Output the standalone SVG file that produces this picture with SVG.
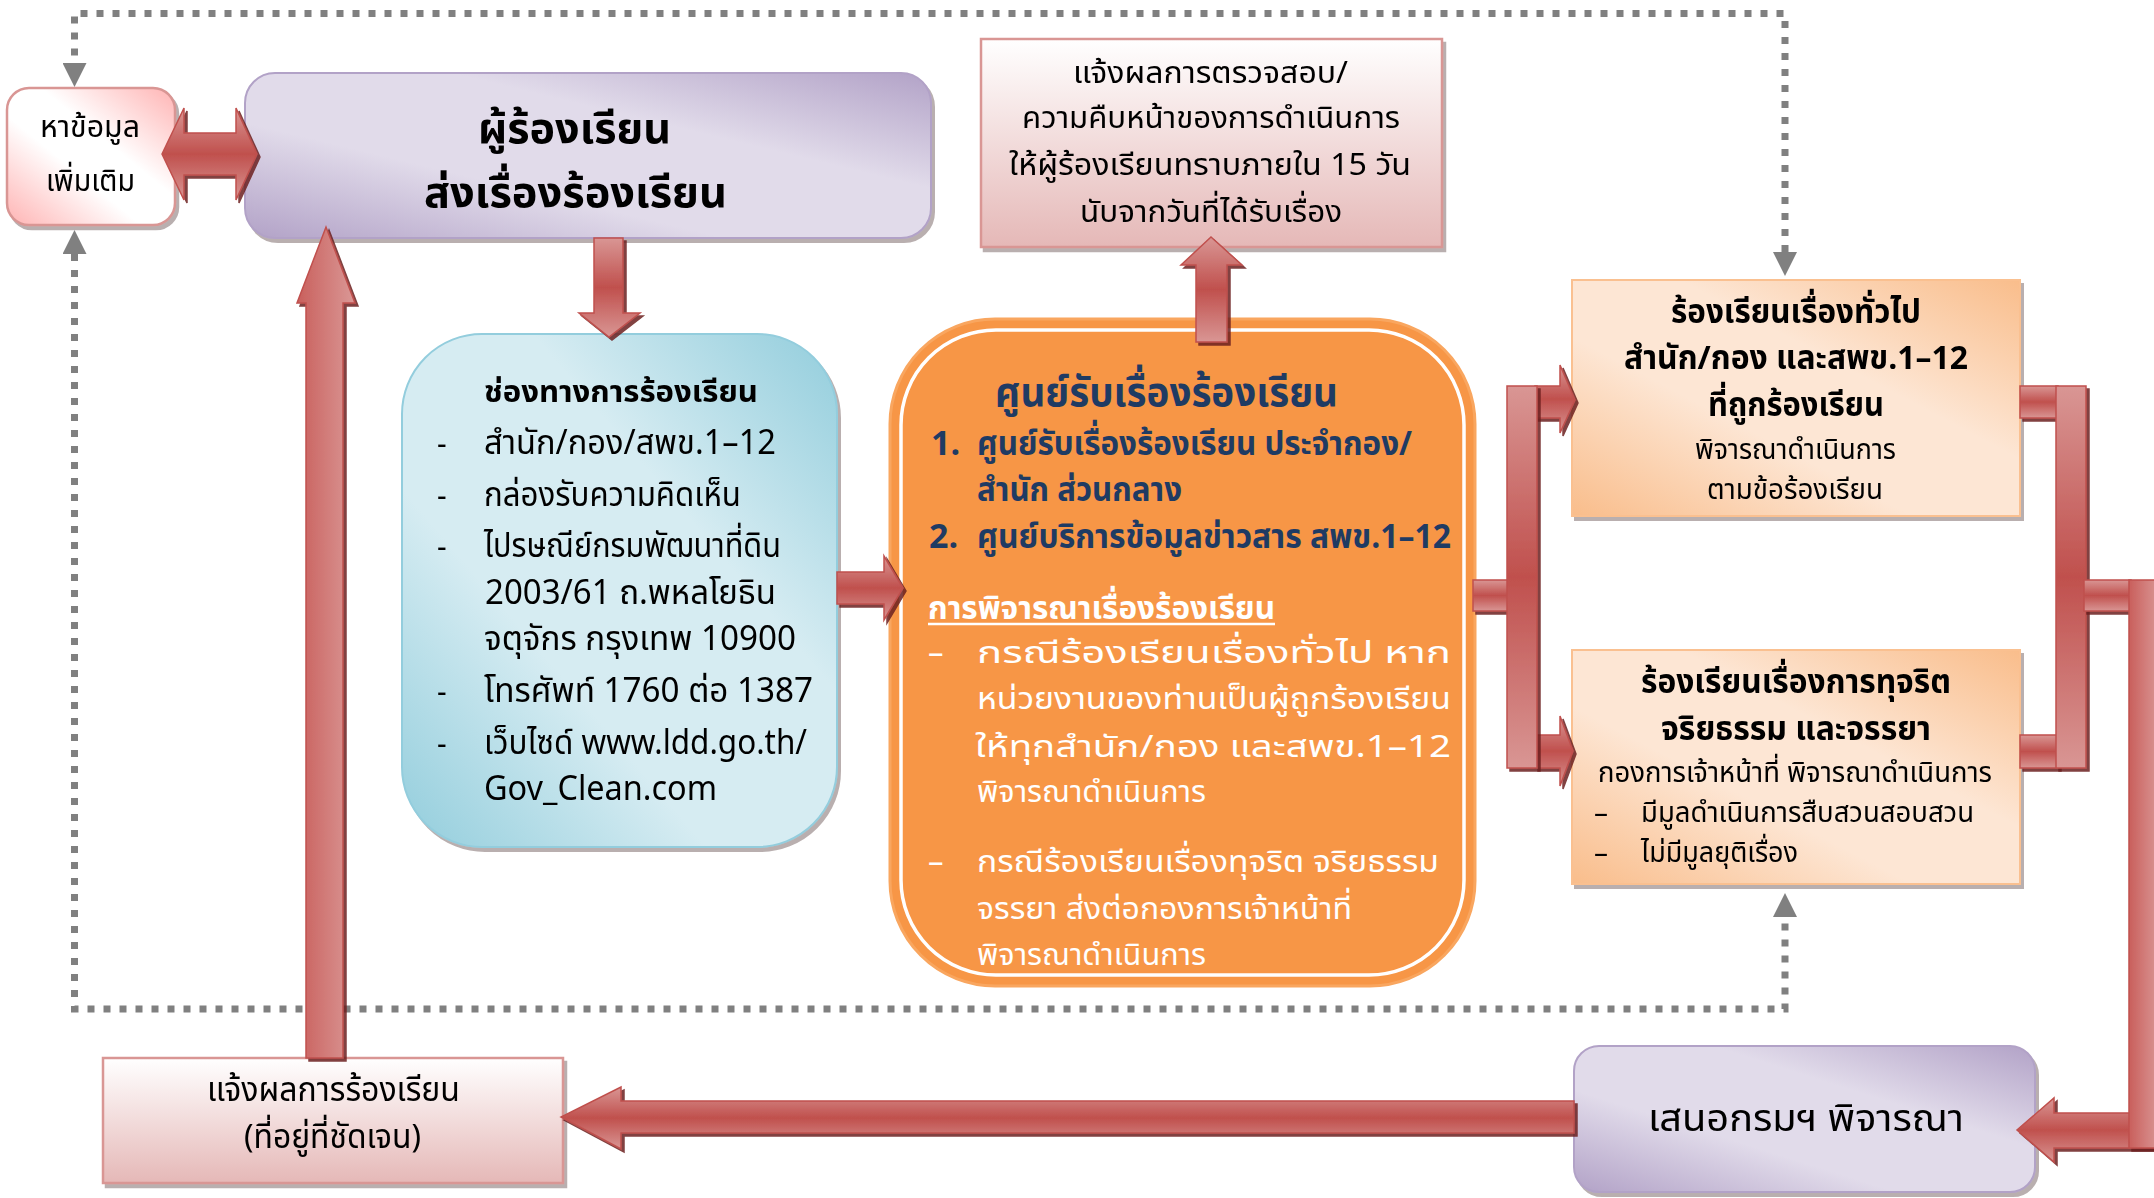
<svg xmlns="http://www.w3.org/2000/svg" width="2154" height="1198" viewBox="0 0 2154 1198">
<style>
.t{font-family:'Noto Sans Thai','Noto Sans Thai UI','Noto Sans','DejaVu Sans',sans-serif;fill:#000}
.b{font-weight:bold}
.nv{fill:#1f3b63}
.w{fill:#ffffff}
.dot{fill:none;stroke:#808080;stroke-width:7;stroke-dasharray:7 9}
.ar{stroke:#c0504d;stroke-width:1.5;filter:url(#ash)}
</style>
<defs>
<linearGradient id="purpleG" x1="0" y1="1" x2="1" y2="0"><stop offset="0" stop-color="#b2a2c7"/><stop offset="0.35" stop-color="#e1dbea"/><stop offset="0.65" stop-color="#e1dbea"/><stop offset="1" stop-color="#b2a2c7"/></linearGradient>
<linearGradient id="blueG" x1="0" y1="1" x2="1" y2="0"><stop offset="0" stop-color="#92cddc"/><stop offset="0.35" stop-color="#d6ecf2"/><stop offset="0.65" stop-color="#d6ecf2"/><stop offset="1" stop-color="#92cddc"/></linearGradient>
<linearGradient id="peachG" x1="0" y1="1" x2="1" y2="0"><stop offset="0" stop-color="#f9bd8b"/><stop offset="0.38" stop-color="#fde6d4"/><stop offset="0.62" stop-color="#fde6d4"/><stop offset="1" stop-color="#f9bd8b"/></linearGradient>
<linearGradient id="smallG" x1="0" y1="1" x2="1" y2="0"><stop offset="0" stop-color="#ffb3b3"/><stop offset="0.4" stop-color="#ffffff"/><stop offset="0.6" stop-color="#ffffff"/><stop offset="1" stop-color="#ffb3b3"/></linearGradient>
<linearGradient id="pinkV" x1="0" y1="0" x2="0" y2="1"><stop offset="0" stop-color="#ffffff"/><stop offset="1" stop-color="#e5b8b7"/></linearGradient>
<linearGradient id="redY" x1="0" y1="0" x2="0" y2="1"><stop offset="0" stop-color="#d99694"/><stop offset="0.5" stop-color="#c0504d"/><stop offset="1" stop-color="#d99694"/></linearGradient>
<linearGradient id="redX" x1="0" y1="0" x2="1" y2="0"><stop offset="0" stop-color="#c95f5c"/><stop offset="1" stop-color="#da9896"/></linearGradient>
<filter id="ash" filterUnits="userSpaceOnUse" x="0" y="0" width="2154" height="1198"><feOffset in="SourceAlpha" dx="3" dy="3" result="o"/><feFlood flood-color="#6b1f1d" flood-opacity="0.85"/><feComposite in2="o" operator="in"/><feMerge><feMergeNode/><feMergeNode in="SourceGraphic"/></feMerge></filter>
<filter id="bsh" filterUnits="userSpaceOnUse" x="0" y="0" width="2154" height="1198"><feOffset in="SourceAlpha" dx="3" dy="4" result="o"/><feFlood flood-color="#8a7a7a" flood-opacity="0.6"/><feComposite in2="o" operator="in"/><feMerge><feMergeNode/><feMergeNode in="SourceGraphic"/></feMerge></filter>
<marker id="gh" viewBox="0 0 24 24" refX="0" refY="12" markerWidth="24" markerHeight="24" markerUnits="userSpaceOnUse" orient="auto-start-reverse"><path d="M0,0 L24,12 L0,24 z" fill="#808080"/></marker>
</defs>

<g id="nodes">
<g id="n-more-info" filter="url(#bsh)">
<rect x="7" y="88" width="168" height="137" rx="22" fill="url(#smallG)" stroke="#d99694" stroke-width="2.5"/>
<text class="t" x="40" y="137" font-size="31" textLength="100" lengthAdjust="spacingAndGlyphs">หาข้อมูล</text>
<text class="t" x="46" y="191" font-size="31" textLength="89" lengthAdjust="spacingAndGlyphs">เพิ่มเติม</text>
</g>
<g id="n-complainant" filter="url(#bsh)">
<rect x="245" y="73" width="686" height="165" rx="30" fill="url(#purpleG)" stroke="#b2a2c7" stroke-width="2"/>
<text class="t b" x="478" y="143" font-size="42" textLength="193" lengthAdjust="spacingAndGlyphs">ผู้ร้องเรียน</text>
<text class="t b" x="424" y="207" font-size="42" textLength="303" lengthAdjust="spacingAndGlyphs">ส่งเรื่องร้องเรียน</text>
</g>
<g id="n-progress" filter="url(#bsh)">
<rect x="981" y="39" width="461" height="208" fill="url(#pinkV)" stroke="#d99694" stroke-width="2.5"/>
<text class="t" x="1073" y="83" font-size="31" textLength="275" lengthAdjust="spacingAndGlyphs">แจ้งผลการตรวจสอบ/</text>
<text class="t" x="1022" y="128" font-size="31" textLength="378" lengthAdjust="spacingAndGlyphs">ความคืบหน้าของการดำเนินการ</text>
<text class="t" x="1009" y="175" font-size="31" textLength="402" lengthAdjust="spacingAndGlyphs">ให้ผู้ร้องเรียนทราบภายใน 15 วัน</text>
<text class="t" x="1080" y="222" font-size="31" textLength="262" lengthAdjust="spacingAndGlyphs">นับจากวันที่ได้รับเรื่อง</text>
</g>
<g id="n-channels" filter="url(#bsh)">
<rect x="402" y="334" width="435" height="513" rx="80" fill="url(#blueG)" stroke="#93cddd" stroke-width="2"/>
<text class="t b" x="484" y="402" font-size="30" textLength="274" lengthAdjust="spacingAndGlyphs">ช่องทางการร้องเรียน</text>
<text class="t" x="437" y="454" font-size="30">-</text>
<text class="t" x="484" y="454" font-size="34" textLength="292" lengthAdjust="spacingAndGlyphs">สำนัก/กอง/สพข.1–12</text>
<text class="t" x="437" y="506" font-size="30">-</text>
<text class="t" x="484" y="506" font-size="34" textLength="257" lengthAdjust="spacingAndGlyphs">กล่องรับความคิดเห็น</text>
<text class="t" x="437" y="557" font-size="30">-</text>
<text class="t" x="484" y="557" font-size="34" textLength="297" lengthAdjust="spacingAndGlyphs">ไปรษณีย์กรมพัฒนาที่ดิน</text>
<text class="t" x="485" y="604" font-size="34" textLength="291" lengthAdjust="spacingAndGlyphs">2003/61 ถ.พหลโยธิน</text>
<text class="t" x="484" y="650" font-size="34" textLength="312" lengthAdjust="spacingAndGlyphs">จตุจักร กรุงเทพ 10900</text>
<text class="t" x="437" y="702" font-size="30">-</text>
<text class="t" x="484" y="702" font-size="34" textLength="329" lengthAdjust="spacingAndGlyphs">โทรศัพท์ 1760 ต่อ 1387</text>
<text class="t" x="437" y="754" font-size="30">-</text>
<text class="t" x="484" y="754" font-size="34" textLength="323" lengthAdjust="spacingAndGlyphs">เว็บไซด์ www.ldd.go.th/</text>
<text class="t" x="484" y="800" font-size="34" textLength="233" lengthAdjust="spacingAndGlyphs">Gov_Clean.com</text>
</g>
<g id="n-center">
<rect x="890" y="319" width="585" height="667" rx="105" fill="#f79646" stroke="#f9a65f" stroke-width="3"/>
<rect x="901" y="330" width="563" height="645" rx="95" fill="none" stroke="#ffffff" stroke-width="3.5"/>
<text class="t b nv" x="995" y="406" font-size="40" textLength="343" lengthAdjust="spacingAndGlyphs">ศูนย์รับเรื่องร้องเรียน</text>
<text class="t b nv" x="931" y="455" font-size="34">1.</text>
<text class="t b nv" x="977" y="455" font-size="34" textLength="435" lengthAdjust="spacingAndGlyphs">ศูนย์รับเรื่องร้องเรียน ประจำกอง/</text>
<text class="t b nv" x="977" y="501" font-size="34" textLength="205" lengthAdjust="spacingAndGlyphs">สำนัก ส่วนกลาง</text>
<text class="t b nv" x="929" y="548" font-size="34">2.</text>
<text class="t b nv" x="977" y="548" font-size="34" textLength="474" lengthAdjust="spacingAndGlyphs">ศูนย์บริการข้อมูลข่าวสาร สพข.1–12</text>
<text class="t b w" x="928" y="619" font-size="32" textLength="347" lengthAdjust="spacingAndGlyphs">การพิจารณาเรื่องร้องเรียน</text>
<line x1="928" y1="624" x2="1275" y2="624" stroke="#ffffff" stroke-width="2.5"/>
<text class="t w" x="928" y="663" font-size="31">–</text>
<text class="t w" x="977" y="663" font-size="31" textLength="474" lengthAdjust="spacingAndGlyphs">กรณีร้องเรียนเรื่องทั่วไป หาก</text>
<text class="t w" x="977" y="709" font-size="31" textLength="474" lengthAdjust="spacingAndGlyphs">หน่วยงานของท่านเป็นผู้ถูกร้องเรียน</text>
<text class="t w" x="975" y="757" font-size="31" textLength="476" lengthAdjust="spacingAndGlyphs">ให้ทุกสำนัก/กอง และสพข.1–12</text>
<text class="t w" x="977" y="802" font-size="31" textLength="229" lengthAdjust="spacingAndGlyphs">พิจารณาดำเนินการ</text>
<text class="t w" x="928" y="872" font-size="31">–</text>
<text class="t w" x="977" y="872" font-size="31" textLength="462" lengthAdjust="spacingAndGlyphs">กรณีร้องเรียนเรื่องทุจริต  จริยธรรม</text>
<text class="t w" x="977" y="919" font-size="31" textLength="375" lengthAdjust="spacingAndGlyphs">จรรยา ส่งต่อกองการเจ้าหน้าที่</text>
<text class="t w" x="977" y="965" font-size="31" textLength="229" lengthAdjust="spacingAndGlyphs">พิจารณาดำเนินการ</text>
</g>
<g id="n-general" filter="url(#bsh)">
<rect x="1572" y="280" width="448" height="236" fill="url(#peachG)" stroke="#fac090" stroke-width="2"/>
<text class="t b" x="1671" y="323" font-size="33" textLength="250" lengthAdjust="spacingAndGlyphs">ร้องเรียนเรื่องทั่วไป</text>
<text class="t b" x="1624" y="369" font-size="33" textLength="344" lengthAdjust="spacingAndGlyphs">สำนัก/กอง และสพข.1–12</text>
<text class="t b" x="1708" y="416" font-size="33" textLength="176" lengthAdjust="spacingAndGlyphs">ที่ถูกร้องเรียน</text>
<text class="t" x="1695" y="459" font-size="28" textLength="201" lengthAdjust="spacingAndGlyphs">พิจารณาดำเนินการ</text>
<text class="t" x="1707" y="499" font-size="28" textLength="176" lengthAdjust="spacingAndGlyphs">ตามข้อร้องเรียน</text>
</g>
<g id="n-corruption" filter="url(#bsh)">
<rect x="1572" y="650" width="448" height="234" fill="url(#peachG)" stroke="#fac090" stroke-width="2"/>
<text class="t b" x="1641" y="693" font-size="33" textLength="310" lengthAdjust="spacingAndGlyphs">ร้องเรียนเรื่องการทุจริต</text>
<text class="t b" x="1661" y="740" font-size="33" textLength="270" lengthAdjust="spacingAndGlyphs">จริยธรรม และจรรยา</text>
<text class="t" x="1598" y="782" font-size="28" textLength="394" lengthAdjust="spacingAndGlyphs">กองการเจ้าหน้าที่ พิจารณาดำเนินการ</text>
<text class="t" x="1594" y="822" font-size="28">–</text>
<text class="t" x="1641" y="822" font-size="28" textLength="333" lengthAdjust="spacingAndGlyphs">มีมูลดำเนินการสืบสวนสอบสวน</text>
<text class="t" x="1594" y="862" font-size="28">–</text>
<text class="t" x="1641" y="862" font-size="28" textLength="157" lengthAdjust="spacingAndGlyphs">ไม่มีมูลยุติเรื่อง</text>
</g>
<g id="n-result" filter="url(#bsh)">
<rect x="103" y="1058" width="460" height="125" fill="url(#pinkV)" stroke="#d99694" stroke-width="2.5"/>
<text class="t" x="207" y="1101" font-size="33" textLength="253" lengthAdjust="spacingAndGlyphs">แจ้งผลการร้องเรียน</text>
<text class="t" x="244" y="1148" font-size="33" textLength="177" lengthAdjust="spacingAndGlyphs">(ที่อยู่ที่ชัดเจน)</text>
</g>
<g id="n-propose" filter="url(#bsh)">
<rect x="1574" y="1046" width="461" height="146" rx="25" fill="url(#purpleG)" stroke="#b2a2c7" stroke-width="2"/>
<text class="t" x="1648" y="1131" font-size="38" textLength="316" lengthAdjust="spacingAndGlyphs">เสนอกรมฯ พิจารณา</text>
</g>
</g>

<g id="connectors">
<path class="dot" d="M1785,252 V13.5 H74.5 V63" marker-start="url(#gh)" marker-end="url(#gh)"/>
<path class="dot" d="M74.5,254 V1009 H1785 V917" marker-start="url(#gh)" marker-end="url(#gh)"/>
<polygon class="ar" fill="url(#redY)" points="162,154 184,108 184,133 236,133 236,108 257,154 236,200 236,175 184,175 184,200"/>
<polygon class="ar" fill="url(#redY)" points="594,238 623,238 623,313 640,313 609,337 579,313 594,313"/>
<polygon class="ar" fill="url(#redY)" points="837,572 884,572 884,556 903,588 884,620 884,604 837,604"/>
<polygon class="ar" fill="url(#redY)" points="1196,342 1196,265 1181,265 1211,237 1242,265 1227,265 1227,342"/>
<rect class="ar" fill="url(#redY)" x="1473" y="580" width="36" height="31"/>
<polygon class="ar" fill="url(#redY)" points="1535,386 1560,386 1560,365 1575,400 1560,433 1560,418 1535,418"/>
<polygon class="ar" fill="url(#redY)" points="1535,735 1560,735 1560,716 1573,751 1560,786 1560,768 1535,768"/>
<rect class="ar" fill="url(#redY)" x="1507" y="386" width="30" height="382"/>
<rect class="ar" fill="url(#redY)" x="2020" y="386" width="38" height="32"/>
<rect class="ar" fill="url(#redY)" x="2020" y="735" width="38" height="33"/>
<rect class="ar" fill="url(#redY)" x="2056" y="386" width="30" height="382"/>
<rect class="ar" fill="url(#redY)" x="2084" y="580" width="47" height="31"/>
<polygon class="ar" fill="url(#redY)" points="2160,1113 2054,1113 2054,1098 2017,1130 2054,1162 2054,1148 2160,1148"/>
<rect class="ar" fill="url(#redX)" x="2129" y="580" width="31" height="568"/>
<polygon class="ar" fill="url(#redY)" points="1574,1101 621,1101 621,1087 561,1117 621,1149 621,1133 1574,1133"/>
<polygon class="ar" fill="url(#redX)" points="306,1058 306,303 297,303 326,227 355,303 343,303 343,1058"/>
</g>
</svg>
